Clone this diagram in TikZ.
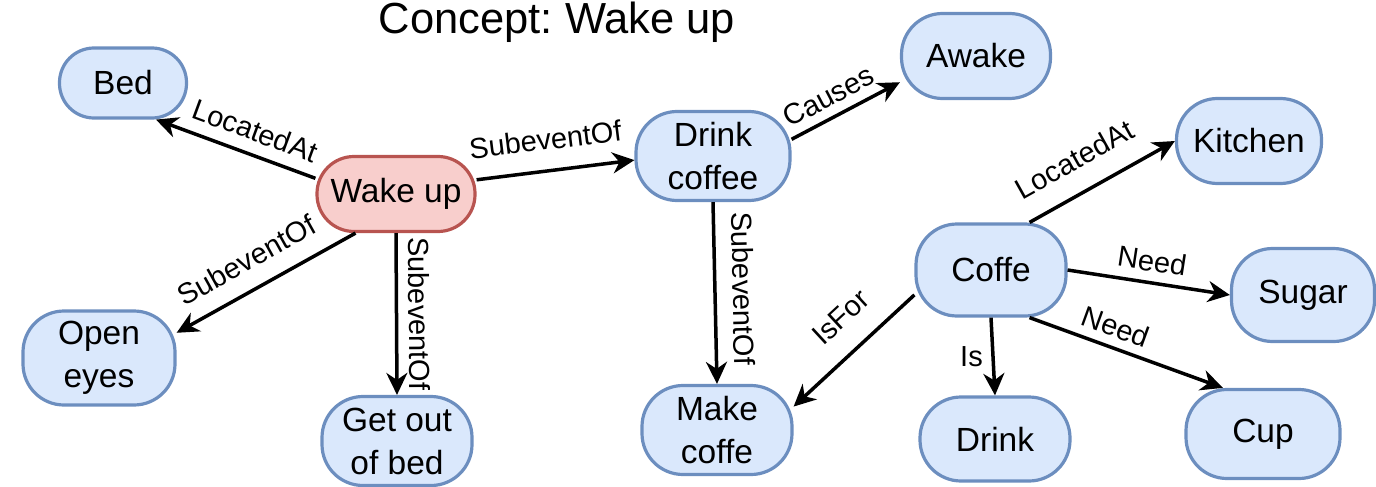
\documentclass[tikz,border=0pt]{standalone}
\usepackage{fontspec}
\setmainfont{Liberation Sans}
\frenchspacing
\usetikzlibrary{arrows.meta}
\definecolor{conceptfill}{HTML}{DAE8FC}
\definecolor{conceptline}{HTML}{6C8EBF}
\definecolor{rootfill}{HTML}{F8CECC}
\definecolor{rootline}{HTML}{B85450}

\begin{document}
\begin{tikzpicture}[x=1pt, y=-1pt,
    concept/.style={draw=conceptline, fill=conceptfill, line width=3.2pt, rounded corners=41pt,
        minimum width=150pt, minimum height=89pt, align=center, inner sep=2pt,
        font=\fontsize{33.5}{43}\selectfont},
    root/.style={concept, draw=rootline, fill=rootfill},
    relation/.style={line width=3.5pt, -{Stealth[length=22pt, width=21pt, inset=7pt]}},
    rel/.style={font=\fontsize{29}{32}\selectfont, inner sep=3pt}
]
    \useasboundingbox (0,0) rectangle (1376,487);

    % Title
    \node[font=\fontsize{43.5}{48}\selectfont] (title) at (557,22) {Concept: Wake up};

    % Concepts
    \node[root, minimum width=158pt, minimum height=75pt, rounded corners=37pt] (wakeup) at (396,194) {Wake up};
    \node[concept, minimum width=127pt, minimum height=70pt, rounded corners=34.5pt] (bed) at (123,83) {Bed};
    \node[concept, minimum width=152pt, minimum height=94pt] (openeyes) at (99,358) {Open\\eyes};
    \node[concept] (getout) at (397,441) {Get out\\of bed};
    \node[concept, minimum width=154pt] (drinkcoffee) at (713,156) {Drink\\coffee};
    \node[concept, minimum width=149pt, minimum height=85pt] (awake) at (976,56) {Awake};
    \node[concept] (makecoffe) at (717,430) {Make\\coffe};
    \node[concept, minimum height=92pt] (coffe) at (991,270) {Coffe};
    \node[concept, minimum width=145pt, minimum height=85pt] (kitchen) at (1249,141) {Kitchen};
    \node[concept, minimum width=143pt, minimum height=93pt] (sugar) at (1303,295) {Sugar};
    \node[concept, minimum height=84pt] (drink) at (995,439) {Drink};
    \node[concept, minimum width=154pt] (cup) at (1263,434) {Cup};

    % Relations of Wake up
    \draw[relation] (wakeup.169) -- node[rel, sloped, pos=0.43, above=8.5pt] {LocatedAt} (bed.-48);
    \draw[relation] (wakeup.10) -- node[rel, sloped, pos=0.46, above=16pt] {SubeventOf} (drinkcoffee.183);
    \draw[relation] (wakeup.224) -- node[rel, sloped, pos=0.53, above=14pt] {SubeventOf} (openeyes.18);
    \draw[relation] (wakeup.south) -- node[rel, sloped, midway, above=7.5pt] {SubeventOf} (getout.north);

    % Relations of Drink coffee
    \draw[relation] (drinkcoffee.12) -- node[rel, sloped, pos=0.43, above=6pt] {Causes} (awake.199);
    \draw[relation] (drinkcoffee.south) -- node[rel, sloped, pos=0.48, above=13pt] {SubeventOf} (makecoffe.north);

    % Relations of Coffe
    \draw[relation] (coffe.51) -- node[rel, sloped, pos=0.42, above=18pt] {LocatedAt} (kitchen.west);
    \draw[relation] (coffe.east) -- node[rel, sloped, pos=0.5, above=6.5pt] {Need} (sugar.west);
    \draw[relation] (coffe.-51) -- node[rel, sloped, pos=0.41, above=5.5pt] {Need} (cup.131);
    \draw[relation] (coffe.south) -- node[rel, midway, left=5.5pt] {Is} (drink.north);
    \draw[relation] (coffe.198) -- node[rel, sloped, pos=0.42, above=19pt] {IsFor} (makecoffe.17);
\end{tikzpicture}
\end{document}
